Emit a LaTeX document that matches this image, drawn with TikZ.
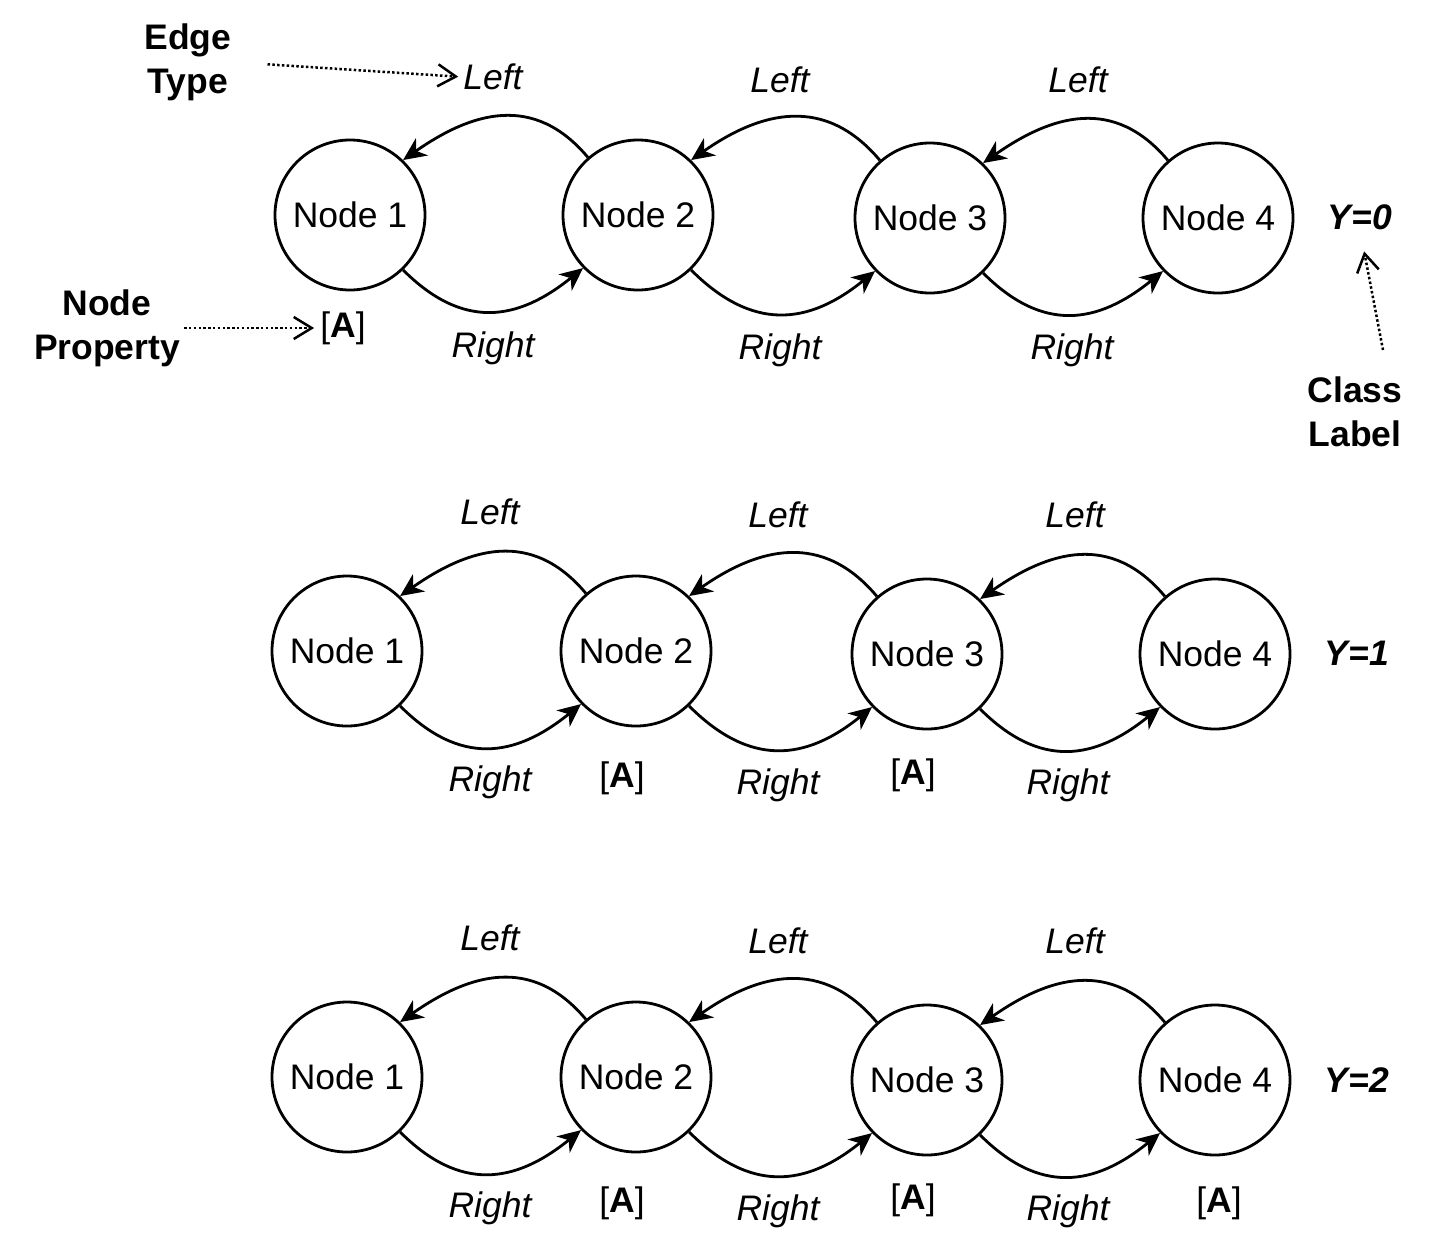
\documentclass[tikz,border=0pt]{standalone}
\usepackage{fontspec}
\setmainfont{Liberation Sans}
\usetikzlibrary{arrows.meta,calc}
\begin{document}
\begin{tikzpicture}[x=1pt,y=1pt,
  gnode/.style={circle,draw,line width=2.8pt,minimum size=150pt,inner sep=0pt,font=\fontsize{35.5}{40}\selectfont},
  txt/.style={inner sep=0pt,font=\fontsize{35.5}{44}\selectfont},
  etxt/.style={inner sep=0pt,font=\fontsize{35.5}{44}\selectfont\itshape},
  btxt/.style={inner sep=0pt,align=center,font=\fontsize{35.5}{44}\selectfont\bfseries},
  ytxt/.style={inner sep=0pt,font=\fontsize{35.5}{44}\selectfont\bfseries\itshape},
  ledge/.style={line width=2.8pt,-{Stealth[length=23pt,width=21pt,inset=7pt]},out=130,in=35,looseness=1.16},
  redge/.style={line width=2.8pt,-{Stealth[length=23pt,width=21pt,inset=7pt]},out=-45,in=-141,looseness=1.2},
  note/.style={line width=2.5pt,dash pattern=on 2.5pt off 2.3pt,-{Straight Barb[length=18pt,width=22pt,line width=2.5pt]}}
]
\useasboundingbox (0,0) rectangle (1443,-1254);
% ---------- row 1
\node[gnode] (a1) at (350,-215) {Node 1};
\node[gnode] (a2) at (638,-215) {Node 2};
\node[gnode] (a3) at (930,-218) {Node 3};
\node[gnode] (a4) at (1218,-218) {Node 4};
\node[etxt] (al1) at (493,-77) {Left};
\node[etxt] (al2) at (780,-80) {Left};
\node[etxt] (al3) at (1078,-80) {Left};
\node[etxt] (ar1) at (493,-348) {Right};
\node[etxt] (ar2) at (780,-350) {Right};
\node[etxt] (ar3) at (1072,-350) {Right};
\node[ytxt] (ay) at (1360,-217) {Y=0};
\node[txt] (ap1) at (343,-328) {[\textbf{A}]};
\draw[ledge] (a2.131) to (a1.46);
\draw[ledge] (a3.131) to (a2.46);
\draw[ledge] (a4.131) to (a3.46);
\draw[redge] (a1.-46) to (a2.-136);
\draw[redge] (a2.-46) to (a3.-136);
\draw[redge] (a3.-46) to (a4.-136);
% annotations
\node[btxt] (et) at (188,-62) {Edge\\Type};
\node[btxt] (np) at (107,-328) {Node\\Property};
\node[btxt] (cl) at (1355,-412) {Class\\Label};
\coordinate (clstart) at (1383,-350);
\draw[note,shorten <=36pt,shorten >=5pt] (et.east) -- (al1.west);
\draw[note,shorten <=4pt,shorten >=6pt] (np.east) -- (ap1.west);
\draw[note,shorten >=22pt] (clstart) -- (ay.south);
% ---------- row 2
\node[gnode] (b1) at (347,-651) {Node 1};
\node[gnode] (b2) at (636,-651) {Node 2};
\node[gnode] (b3) at (927,-654) {Node 3};
\node[gnode] (b4) at (1215,-654) {Node 4};
\node[etxt] (bl1) at (490,-512) {Left};
\node[etxt] (bl2) at (778,-515) {Left};
\node[etxt] (bl3) at (1075,-515) {Left};
\node[etxt] (br1) at (490,-782) {Right};
\node[etxt] (br2) at (778,-785) {Right};
\node[etxt] (br3) at (1068,-785) {Right};
\node[ytxt] (by) at (1357,-653) {Y=1};
\node[txt] (bp2) at (622,-778) {[\textbf{A}]};
\node[txt] (bp3) at (913,-775) {[\textbf{A}]};
\draw[ledge] (b2.131) to (b1.46);
\draw[ledge] (b3.131) to (b2.46);
\draw[ledge] (b4.131) to (b3.46);
\draw[redge] (b1.-46) to (b2.-136);
\draw[redge] (b2.-46) to (b3.-136);
\draw[redge] (b3.-46) to (b4.-136);
% ---------- row 3
\node[gnode] (c1) at (347,-1077) {Node 1};
\node[gnode] (c2) at (636,-1077) {Node 2};
\node[gnode] (c3) at (927,-1080) {Node 3};
\node[gnode] (c4) at (1215,-1080) {Node 4};
\node[etxt] (cl1) at (490,-938) {Left};
\node[etxt] (cl2) at (778,-941) {Left};
\node[etxt] (cl3) at (1075,-941) {Left};
\node[etxt] (cr1) at (490,-1208) {Right};
\node[etxt] (cr2) at (778,-1211) {Right};
\node[etxt] (cr3) at (1068,-1211) {Right};
\node[ytxt] (cy) at (1357,-1080) {Y=2};
\node[txt] (cp2) at (622,-1203) {[\textbf{A}]};
\node[txt] (cp3) at (913,-1200) {[\textbf{A}]};
\node[txt] (cp4) at (1219,-1203) {[\textbf{A}]};
\draw[ledge] (c2.131) to (c1.46);
\draw[ledge] (c3.131) to (c2.46);
\draw[ledge] (c4.131) to (c3.46);
\draw[redge] (c1.-46) to (c2.-136);
\draw[redge] (c2.-46) to (c3.-136);
\draw[redge] (c3.-46) to (c4.-136);
\end{tikzpicture}
\end{document}
